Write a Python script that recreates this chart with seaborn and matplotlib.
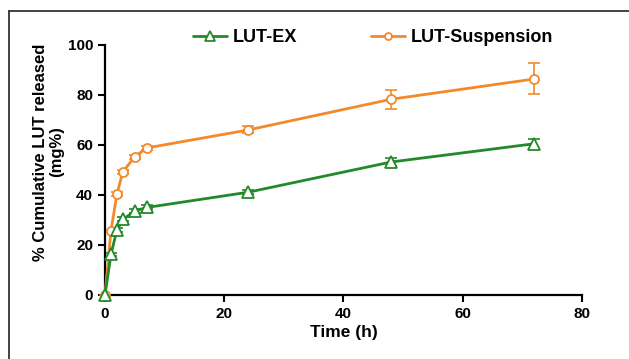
import matplotlib
matplotlib.use("Agg")
import matplotlib.pyplot as plt
import seaborn as sns
import pandas as pd
from matplotlib.lines import Line2D

time_ex = [0, 1, 2, 3, 5, 7, 24, 48, 72]
lut_ex = [0, 16.2, 25.9, 30.2, 33.6, 35.0, 41.1, 53.2, 60.5]
lut_ex_err = [0, 0.5, 0.8, 0.8, 0.8, 0.8, 0.8, 1.6, 2.0]

time_susp = [0, 1, 2, 3, 5, 7, 24, 48, 72]
lut_susp = [0, 25.6, 40.3, 49.3, 55.3, 58.8, 66.0, 78.3, 86.4]
lut_susp_err = [0, 0.5, 0.8, 0.8, 0.8, 0.8, 1.4, 3.8, 6.2]

green = "#23892b"
orange = "#f3892a"

sns.set_style("ticks")
plt.rcParams['font.family'] = ['Liberation Sans', 'DejaVu Sans']
plt.rcParams['font.weight'] = 'bold'
plt.rcParams['text.color'] = 'black'
plt.rcParams['axes.labelcolor'] = 'black'
plt.rcParams['xtick.color'] = 'black'
plt.rcParams['ytick.color'] = 'black'

fig = plt.figure(figsize=(6.29, 3.59), dpi=100)
ax = fig.add_axes([0.1669, 0.1783, 0.7584, 0.6964])

df_ex = pd.DataFrame({"t": time_ex, "v": lut_ex})
df_su = pd.DataFrame({"t": time_susp, "v": lut_susp})

ax.errorbar(time_susp, lut_susp, yerr=lut_susp_err, fmt='none', ecolor=orange,
            elinewidth=1.2, capsize=4, capthick=1.2, zorder=2)
ax.errorbar(time_ex, lut_ex, yerr=lut_ex_err, fmt='none', ecolor=green,
            elinewidth=1.2, capsize=4, capthick=1.2, zorder=2)

sns.lineplot(data=df_su, x="t", y="v", ax=ax, color=orange, marker='o',
             markersize=6.5, markerfacecolor='white', markeredgecolor=orange,
             markeredgewidth=1.3, linewidth=2, zorder=3)
sns.lineplot(data=df_ex, x="t", y="v", ax=ax, color=green, marker='^',
             markersize=8.5, markerfacecolor='white', markeredgecolor=green,
             markeredgewidth=1.3, linewidth=2, zorder=4)

ax.set_xlim(0, 80)
ax.set_ylim(0, 100)
ax.set_xticks([0, 20, 40, 60, 80])
ax.set_yticks([0, 20, 40, 60, 80, 100])
ax.set_xlabel("Time (h)", fontsize=12.5, fontweight='bold', labelpad=3)
ax.set_ylabel("% Cumulative LUT released\n(mg%)", fontsize=12, fontweight='bold',
              linespacing=1.05)
ax.yaxis.set_label_coords(-0.086, 0.572)
for lbl in ax.get_xticklabels() + ax.get_yticklabels():
    lbl.set_fontweight('bold')
ax.tick_params(axis='both', labelsize=11, width=1.5, length=5, direction='out',
               color='black', labelcolor='black')
for s in ['top', 'right']:
    ax.spines[s].set_visible(False)
for s in ['left', 'bottom']:
    ax.spines[s].set_linewidth(1.6)
    ax.spines[s].set_color('black')
ax.margins(0)
for c in ax.get_children():
    if hasattr(c, 'set_clip_on'):
        c.set_clip_on(False)

handles = [
    Line2D([], [], color=green, marker='^', markersize=7, markerfacecolor='white',
           markeredgecolor=green, markeredgewidth=1.3, linewidth=2),
    Line2D([], [], color=orange, marker='o', markersize=5, markerfacecolor='white',
           markeredgecolor=orange, markeredgewidth=1.3, linewidth=2),
]
leg = fig.legend(handles, ["LUT-EX", "LUT-Suspension"], loc='center',
                 bbox_to_anchor=(373 / 629, 1 - 38 / 359), ncol=2, frameon=False,
                 handlelength=1.9, columnspacing=4.1, handletextpad=0.3,
                 prop={'weight': 'bold', 'size': 13})

# partial frame around figure
fig.add_artist(Line2D([9 / 629, 9 / 629], [0, 1 - 11 / 359], transform=fig.transFigure,
                      color='#222222', linewidth=1.2))
fig.add_artist(Line2D([9 / 629, 1], [1 - 11 / 359, 1 - 11 / 359], transform=fig.transFigure,
                      color='#222222', linewidth=1.2))

fig.savefig("out.png", dpi=100)
